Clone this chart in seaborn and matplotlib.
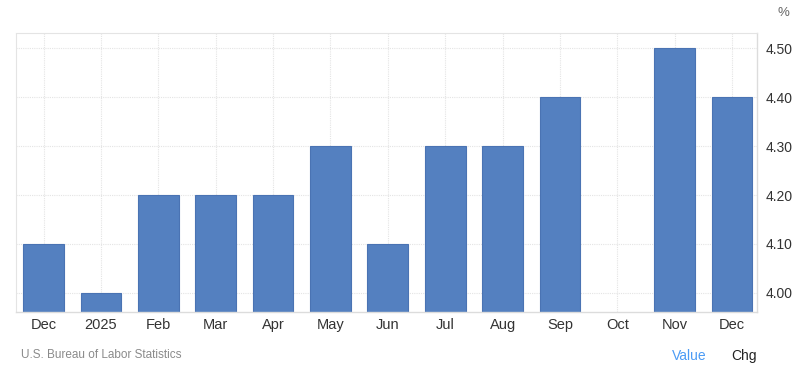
import numpy as np
import pandas as pd
import matplotlib
matplotlib.use("Agg")
import matplotlib.pyplot as plt
import seaborn as sns

categories = ["Dec", "2025", "Feb", "Mar", "Apr", "May", "Jun", "Jul", "Aug", "Sep", "Oct", "Nov", "Dec"]
values = [4.1, 4.0, 4.2, 4.2, 4.2, 4.3, 4.1, 4.3, 4.3, 4.4, np.nan, 4.5, 4.4]
yticks = [4.0, 4.1, 4.2, 4.3, 4.4, 4.5]
ytick_labels = ["4.00", "4.10", "4.20", "4.30", "4.40", "4.50"]

sns.set_theme(style="white")
plt.rcParams['font.family'] = ['Liberation Sans', 'DejaVu Sans']

df = pd.DataFrame({"pos": range(len(categories)), "value": values})

fig = plt.figure(figsize=(8, 3.85), dpi=100)
ax = fig.add_axes([0.02, 0.1896, 0.926, 0.7246])

sns.barplot(data=df, x="pos", y="value", ax=ax, color="#5480c0", width=0.71,
            saturation=1, edgecolor="#4a73b3", linewidth=0.8, native_scale=True)

ax.set_xlim(-0.48, len(categories) - 1 + 0.43)
ax.set_ylim(3.961, 4.531)
ax.set_xticks(range(len(categories)))
ax.set_xticklabels(categories)
ax.set_yticks(yticks)
ax.set_yticklabels(ytick_labels)
ax.yaxis.tick_right()
ax.set_xlabel("")
ax.set_ylabel("")

ax.grid(True, axis="both", color="#e4e4e4", linestyle=(0, (1, 1)), linewidth=0.8)
ax.set_axisbelow(True)
for side in ["top", "left"]:
    ax.spines[side].set_visible(True)
    ax.spines[side].set_color("#e4e4e4")
    ax.spines[side].set_linestyle((0, (1, 1)))
    ax.spines[side].set_linewidth(0.8)
for side in ["bottom", "right"]:
    ax.spines[side].set_color("#dcdcdc")
    ax.spines[side].set_linewidth(1.0)

ax.tick_params(axis="x", length=0, pad=4, labelsize=10.5, labelcolor="#333333")
ax.tick_params(axis="y", length=0, pad=6, labelsize=10, labelcolor="#333333")

fig.text(0.979, 0.965, "%", ha="center", va="center", fontsize=9.5, color="#666666")
fig.text(0.026, 0.078, "U.S. Bureau of Labor Statistics", ha="left", va="center",
         fontsize=8.5, color="#8a8a8a")
fig.text(0.862, 0.075, "Value", ha="center", va="center", fontsize=10, color="#4b9bf5")
fig.text(0.930, 0.075, "Chg", ha="center", va="center", fontsize=10, color="#222222")

fig.savefig("out.png", dpi=100, facecolor="white")
